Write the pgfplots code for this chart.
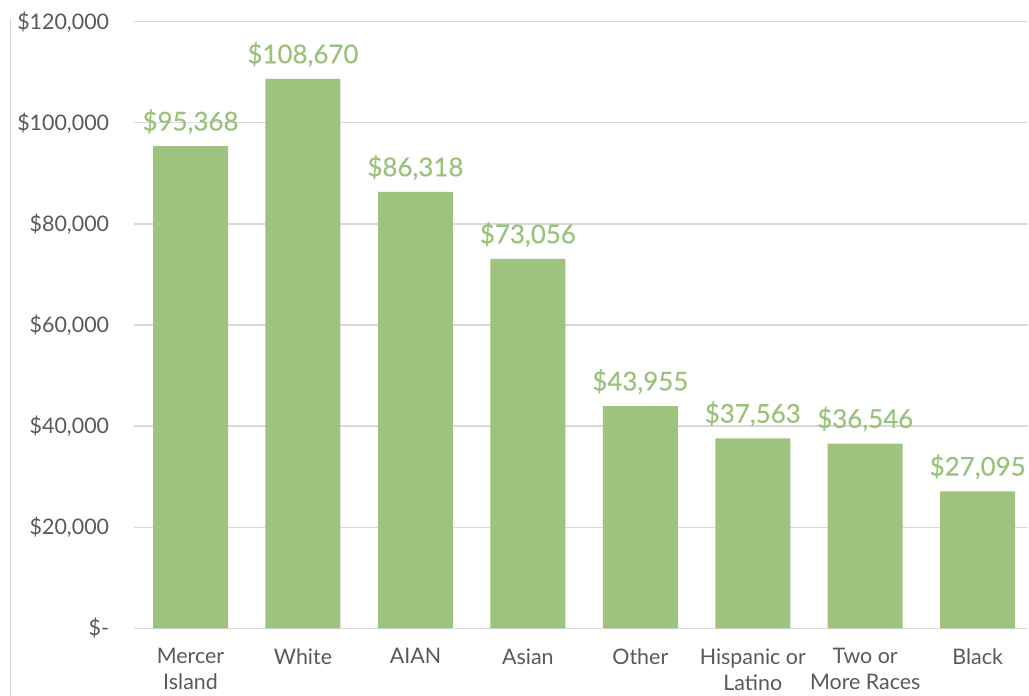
\documentclass[border=0pt]{standalone}
\usepackage{fontspec}
\setmainfont{Lato}
\newfontfamily\lblfont[FakeBold=0.35]{Lato}
\usepackage{pgfplots}
\pgfplotsset{compat=1.18}
\definecolor{barg}{HTML}{9DC37E}
\definecolor{lblg}{HTML}{9AC27B}
\definecolor{txt}{HTML}{595959}
\definecolor{grd}{HTML}{D9D9D9}
\begin{document}
\begin{tikzpicture}
\path[use as bounding box] (0,0) rectangle (1029bp,696bp);
\draw[grd, line width=1.2bp] (10.5bp,0) -- (10.5bp,678bp);
\begin{axis}[
  at={(134.3bp,67.7bp)}, anchor=south west,
  scale only axis, width=894bp, height=606.6bp,
  xmin=-0.5, xmax=7.45, ymin=0, ymax=120000,
  axis line style={draw=none},
  major tick length=0pt,
  scaled y ticks=false,
  ymajorgrids, major grid style={grd, line width=1.3bp},
  ytick={0,20000,40000,60000,80000,100000,120000},
  yticklabels={{\$-\hspace{9bp}},{\$20,000},{\$40,000},{\$60,000},{\$80,000},{\$100,000},{\$120,000}},
  yticklabel style={anchor=east, inner sep=0pt, xshift=-25bp, text=txt, font=\fontsize{21.5}{26}\selectfont},
  xtick={0,1,2,3,4,5,6,7},
  xticklabels={Mercer\\Island, White, AIAN, Asian, Other, Hispanic or\\Latino, Two or\\More Races, Black},
  xticklabel style={anchor=north, inner sep=0pt, yshift=-20bp, align=center, text=txt, font=\fontsize{21.5}{26}\selectfont},
  clip=false,
]
\addplot[ybar, fill=barg, draw=none, bar width=75bp, point meta=explicit symbolic,
  nodes near coords={\$\pgfplotspointmeta},
  every node near coord/.append style={anchor=south, inner sep=0pt, yshift=12bp, text=lblg, font=\lblfont\fontsize{26}{30}\selectfont}]
table[x=x, y=y, meta=label] {
x y label
0 95368 95,368
1 108670 108,670
2 86318 86,318
3 73056 73,056
4 43955 43,955
5 37563 37,563
6 36546 36,546
7 27095 27,095
};
\end{axis}
\end{tikzpicture}
\end{document}
